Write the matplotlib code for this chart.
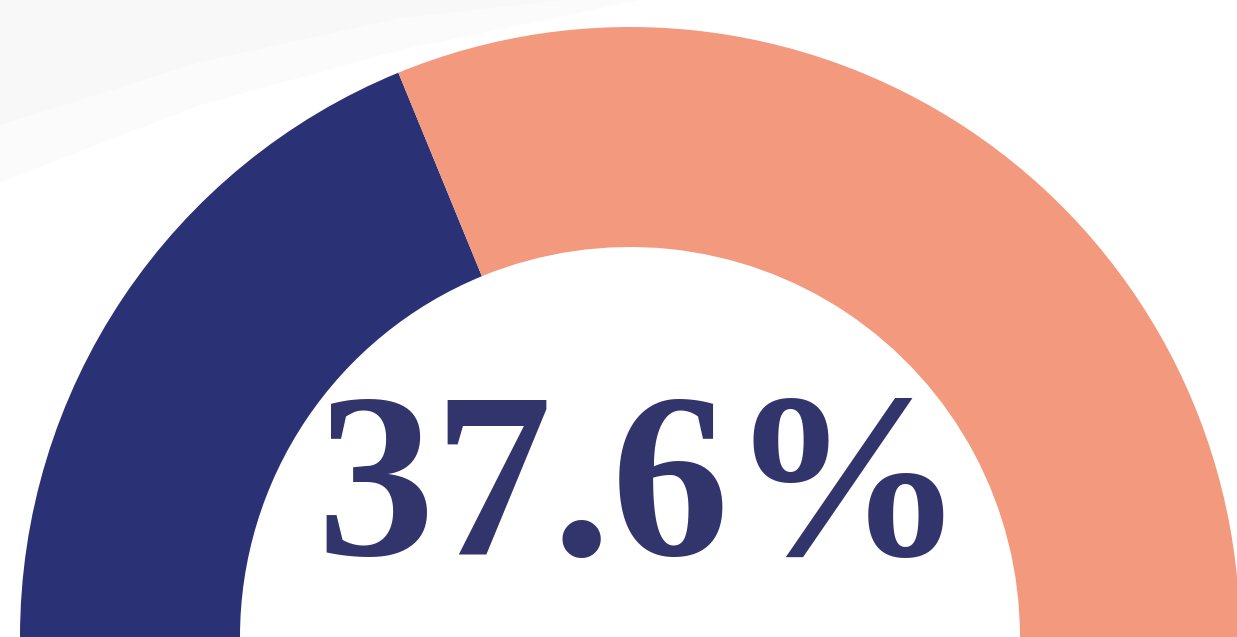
import matplotlib
matplotlib.use("Agg")
import matplotlib.pyplot as plt

# Data
labels = ["Share", "Remainder"]
values = [37.6, 62.4]
value_label = "37.6%"
colors = ["#2a3174", "#f3997e"]
text_color = "#32346c"

W, H = 1237, 637
fig = plt.figure(figsize=(W / 100, H / 100), dpi=100)
ax = fig.add_axes([0, 0, 1, 1])

# faint background swoosh top-left (image coords converted: y_data = H - y_img)
outer_x = [0, 0, 200, 400, 640, 0]
outer_y = [H, H - 182, H - 105, H - 50, H, H]
inner_x = [0, 0, 200, 400, 560, 0]
inner_y = [H, H - 125, H - 62, H - 18, H, H]
ax.fill(outer_x, outer_y, color="#fbfbfb", lw=0, zorder=0)
ax.fill(inner_x, inner_y, color="#f8f8f8", lw=0, zorder=0)

# half-donut gauge: values over half circle, hidden complement
total = sum(values)
ax.pie(values + [total], startangle=180, counterclock=False,
       colors=colors + ["none"], radius=610, center=(630, 0),
       wedgeprops=dict(width=220, linewidth=0), frame=True)

ax.text(641, 82, value_label, ha="center", va="baseline",
        fontsize=170, fontweight="bold", family=["Liberation Serif", "DejaVu Serif"],
        color=text_color, zorder=5)

ax.set_xlim(0, W)
ax.set_ylim(0, H)
ax.set_aspect("auto")
ax.axis("off")
fig.savefig("out.png", dpi=100, facecolor="white")
